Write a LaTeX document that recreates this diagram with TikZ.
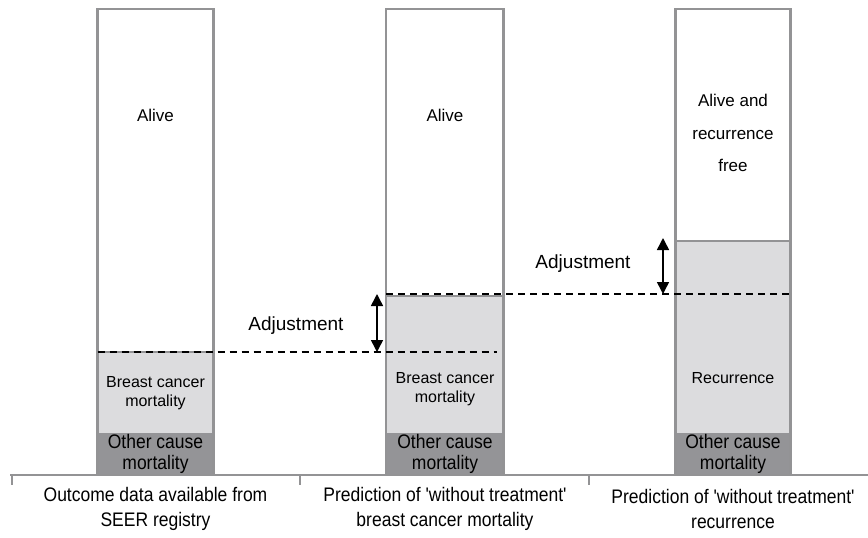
\documentclass[tikz,border=0pt]{standalone}
\usepackage{fontspec}
\setmainfont{Liberation Sans}
\newfontfamily\plainsans{Liberation Sans}
\usetikzlibrary{arrows.meta}
\definecolor{edgegray}{HTML}{939395}
\definecolor{lightfill}{HTML}{DCDCDE}
\definecolor{darkfill}{HTML}{949497}
\newcommand{\tall}[1]{\scalebox{1}[1.12]{#1}}
\begin{document}
\begin{tikzpicture}[x=1pt,y=-1pt,
  lbl/.style={align=center, inner sep=0pt, font=\plainsans\fontsize{17}{20}\selectfont},
  small/.style={align=center, inner sep=0pt, font=\plainsans\fontsize{16}{19.5}\selectfont},
  other/.style={align=center, inner sep=0pt, font=\plainsans\fontsize{17.5}{21}\selectfont},
  adj/.style={inner sep=0pt, font=\plainsans\fontsize{19}{22}\selectfont},
  bottom/.style={align=center, inner sep=0pt, font=\plainsans\fontsize{17.5}{25}\selectfont},
  baredge/.style={draw=edgegray, line width=2.5pt},
  levelline/.style={draw=black, line width=1.3pt, dash pattern=on 7pt off 5pt},
  adjarrow/.style={line width=1.5pt, {Triangle[width=12pt,length=12pt]}-{Triangle[width=12pt,length=12pt]}}
]
\useasboundingbox (0,0) rectangle (868,538);

% ---- bar 1 ----
\fill[lightfill] (97.5,352) rectangle (213.5,433);
\fill[darkfill] (97.5,433) rectangle (213.5,475);
\draw[edgegray, line width=1.5pt] (97.5,352) -- (213.5,352);
\draw[baredge] (97.5,475) -- (97.5,9) -- (213.5,9) -- (213.5,475);

% ---- bar 2 ----
\fill[lightfill] (386,295) rectangle (503.5,433);
\fill[darkfill] (386,433) rectangle (503.5,475);
\draw[edgegray, line width=1.5pt] (386,296) -- (503.5,296);
\draw[baredge] (386,475) -- (386,9) -- (503.5,9) -- (503.5,475);

% ---- bar 3 ----
\fill[lightfill] (675.5,241) rectangle (790.5,433);
\fill[darkfill] (675.5,433) rectangle (790.5,475);
\draw[edgegray, line width=2pt] (675.5,241) -- (790.5,241);
\draw[baredge] (675.5,475) -- (675.5,9) -- (790.5,9) -- (790.5,475);

% ---- axis ----
\draw[baredge] (10,475) -- (868,475);
\draw[edgegray, line width=2pt] (11.5,475) -- (11.5,485);
\draw[edgegray, line width=2pt] (299.5,475) -- (299.5,485);
\draw[edgegray, line width=2pt] (589,475) -- (589,485);

% ---- level lines ----
\coordinate (lowA) at (97.5,352);
\coordinate (lowB) at (497,352);
\coordinate (upA) at (386,294);
\coordinate (upB) at (789,294);
\draw[levelline] (lowA) -- (lowB);
\draw[levelline] (upA) -- (upB);

% ---- adjustment arrows ----
\coordinate (a1top) at (377,294);
\coordinate (a1bot) at (377,352);
\coordinate (a2top) at (663,238);
\coordinate (a2bot) at (663,294);
\draw[adjarrow] (a1top) -- (a1bot);
\draw[adjarrow] (a2top) -- (a2bot);
\node[adj] (adj1) at (296,326) {Adjustment};
\node[adj] (adj2) at (583,264) {Adjustment};

% ---- bar labels ----
\node[lbl] (alive1) at (155.5,115) {Alive};
\node[lbl] (alive2) at (445,115) {Alive};
\node[lbl, font=\plainsans\fontsize{17}{32.5}\selectfont] (alive3) at (733,133) {Alive and\\recurrence\\free};

\node[small] (bc1) at (155.5,393) {Breast cancer\\mortality};
\node[small] (bc2) at (445,389) {Breast cancer\\mortality};
\node[small] (rec3) at (733,378) {Recurrence};

\node[other] (oc1) at (155.5,454) {\tall{Other cause}\\\tall{mortality}};
\node[other] (oc2) at (445,454) {\tall{Other cause}\\\tall{mortality}};
\node[other] (oc3) at (733,454) {\tall{Other cause}\\\tall{mortality}};

% ---- bottom labels ----
\node[bottom] (cap1) at (155.5,509) {\tall{Outcome data available from}\\\tall{SEER registry}};
\node[bottom] (cap2) at (445,509) {\tall{Prediction of 'without treatment'}\\\tall{breast cancer mortality}};
\node[bottom] (cap3) at (733,509) {\tall{Prediction of 'without treatment'}\\\tall{recurrence}};
\end{tikzpicture}
\end{document}
